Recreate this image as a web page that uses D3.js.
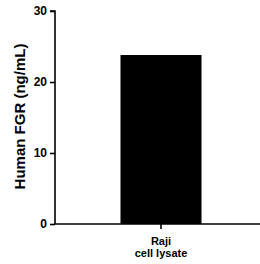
<!DOCTYPE html>
<html>
<head>
<meta charset="utf-8">
<script src="https://cdn.jsdelivr.net/npm/d3@7"></script>
<style>
body { margin: 0; background: #fff; }
text { font-family: Arial, "Liberation Sans", sans-serif; font-weight: bold; fill: #000; }
</style>
</head>
<body>
<svg id="chart" width="260" height="264"></svg>
<script>
var categories = ['Raji|cell lysate'];
var values = [23.8];
var yTicks = [0, 10, 20, 30];

var svg = d3.select('#chart');

var margin = { top: 11, right: 0, bottom: 40, left: 55 };

var y = d3.scaleLinear()
    .domain([0, 30])
    .range([224, 11]);

var x = d3.scaleBand()
    .domain(categories)
    .range([margin.left, 267])
    .padding(0.447);

// bars
svg.selectAll('.bar')
    .data(values)
    .enter().append('rect')
    .attr('class', 'bar')
    .attr('x', function (d, i) { return x(categories[i]); })
    .attr('width', x.bandwidth())
    .attr('y', function (d) { return y(d); })
    .attr('height', function (d) { return y(0) - y(d); })
    .attr('fill', '#000');

// y axis
var yAxis = svg.append('g')
    .attr('transform', 'translate(' + margin.left + ',0)')
    .call(d3.axisLeft(y).tickValues(yTicks).tickSize(5).tickPadding(3));
yAxis.select('.domain').attr('stroke-width', 1.6).attr('d', 'M-5,11H0V224');
yAxis.selectAll('.tick line').attr('stroke-width', 1.6);
yAxis.selectAll('.tick text').style('font-size', '12px');

// x axis
svg.append('line')
    .attr('x1', margin.left).attr('x2', 260)
    .attr('y1', y(0)).attr('y2', y(0))
    .attr('stroke', '#000').attr('stroke-width', 1.6);

categories.forEach(function (c) {
    var cx = x(c) + x.bandwidth() / 2;
    svg.append('line')
        .attr('x1', cx).attr('x2', cx)
        .attr('y1', y(0)).attr('y2', y(0) + 5)
        .attr('stroke', '#000').attr('stroke-width', 1.6);
    c.split('|').forEach(function (t, j) {
        svg.append('text')
            .attr('x', cx)
            .attr('y', 244.5 + j * 12.5)
            .attr('text-anchor', 'middle')
            .style('font-size', '11px')
            .text(t);
    });
});

// y label
svg.append('text')
    .attr('transform', 'translate(25,116.5) rotate(-90)')
    .attr('text-anchor', 'middle')
    .style('font-size', '15px')
    .text('Human FGR (ng/mL)');
</script>
</body>
</html>
